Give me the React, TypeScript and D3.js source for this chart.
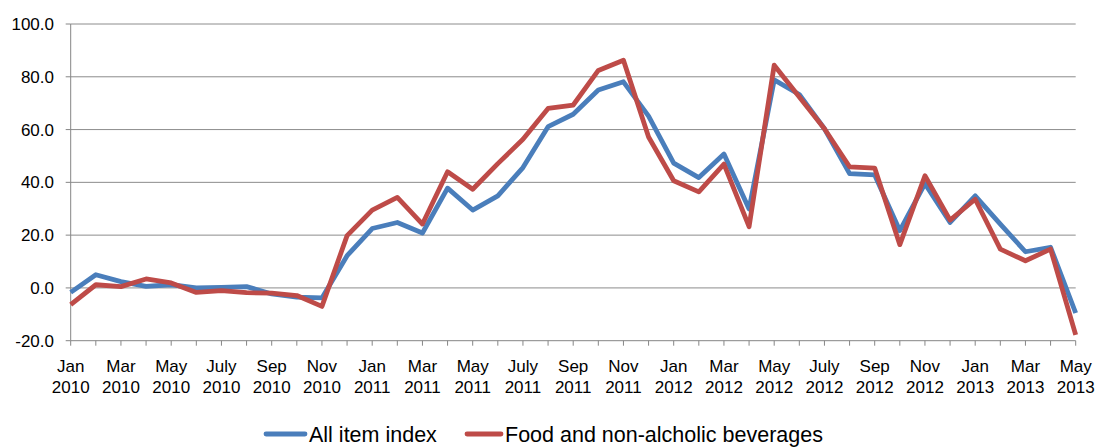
import React from "react";
import * as d3 from "d3";

const months = ["Jan","Feb","Mar","Apr","May","Jun","July","Aug","Sep","Oct","Nov","Dec"];
const periods: string[] = [];
for (let y = 2010; y <= 2013; y++) {
  for (let m = 0; m < 12; m++) {
    if (y === 2013 && m > 4) break;
    periods.push(`${months[m]} ${y}`);
  }
}

const allItem = [
  -1.7, 5.0, 2.4, 0.6, 1.2, 0.0, 0.2, 0.5, -2.3, -3.5, -3.8, 12.2,
  22.5, 24.8, 20.8, 37.8, 29.5, 34.9, 45.6, 61.1, 65.8, 75.0, 78.1, 65.1,
  47.3, 41.8, 50.7, 29.9, 78.8, 73.3, 60.3, 43.3, 42.8, 21.7, 39.5, 24.8,
  34.9, 24.2, 13.7, 15.4, -9.5,
];
const food = [
  -6.3, 1.2, 0.5, 3.4, 1.9, -1.7, -1.0, -1.8, -2.0, -2.9, -7.0, 19.8,
  29.5, 34.3, 24.2, 44.0, 37.4, 47.1, 56.3, 68.0, 69.3, 82.4, 86.3, 57.2,
  40.6, 36.4, 46.9, 23.2, 84.4, 72.3, 60.3, 45.9, 45.4, 16.4, 42.5, 25.7,
  33.6, 14.7, 10.3, 14.7, -17.8,
];
const yTicks = [-20, 0, 20, 40, 60, 80, 100];
const seriesNames = ["All item index", "Food and non-alcholic beverages"];
const colors = ["#4A7EBB", "#BE4B48"];

export default function App() {
  const W = 1098, H = 447;
  const left = 70.7, right = 1075.7, top = 24, bottom = 340.7;
  const x = d3.scaleLinear().domain([0, periods.length - 1]).range([left, right]);
  const y = d3.scaleLinear().domain([-20, 100]).range([bottom, top]);
  const line = d3.line<number>().x((_, i) => x(i)).y((d) => y(d));
  const font = "'Liberation Sans', Arial, sans-serif";
  const axisColor = "#868686";
  const legendPos = [
    { lx: 266, tx: 309 },
    { lx: 467, tx: 505 },
  ];
  return (
    <svg width={W} height={H} style={{ position: "absolute", left: 0, top: 0 }} fontFamily={font}>
      <rect width={W} height={H} fill="#fff" />
      {yTicks.map((t) => (
        <g key={t}>
          {t !== -20 && <line x1={left} x2={right} y1={y(t)} y2={y(t)} stroke="#8c8c8c" strokeWidth={1} />}
          <line x1={left - 5} x2={left} y1={y(t)} y2={y(t)} stroke={axisColor} strokeWidth={1} />
          <text x={54} y={y(t)} dy="0.36em" textAnchor="end" fontSize={17} fill="#000">
            {t.toFixed(1)}
          </text>
        </g>
      ))}
      <line x1={left} x2={left} y1={top} y2={bottom} stroke={axisColor} strokeWidth={1} />
      <line x1={left} x2={right} y1={bottom} y2={bottom} stroke={axisColor} strokeWidth={1} />
      {periods.map((p, i) => (
        <g key={p}>
          <line x1={x(i)} x2={x(i)} y1={bottom} y2={bottom + 5} stroke={axisColor} strokeWidth={1} />
          {i % 2 === 0 && (
            <text x={x(i)} textAnchor="middle" fontSize={17} fill="#000">
              <tspan x={x(i)} y={372}>{p.split(" ")[0]}</tspan>
              <tspan x={x(i)} y={393}>{p.split(" ")[1]}</tspan>
            </text>
          )}
        </g>
      ))}
      {[allItem, food].map((s, k) => (
        <path key={k} d={line(s) || ""} fill="none" stroke={colors[k]} strokeWidth={4.8} strokeLinejoin="round" />
      ))}
      {seriesNames.map((n, k) => {
        const { lx, tx } = legendPos[k];
        return (
          <g key={n}>
            <line x1={lx} x2={tx - 4} y1={434} y2={434} stroke={colors[k]} strokeWidth={4.8} strokeLinecap="round" />
            <text x={tx} y={434.5} dy="0.36em" fontSize={21.5} fill="#000">{n}</text>
          </g>
        );
      })}
    </svg>
  );
}
